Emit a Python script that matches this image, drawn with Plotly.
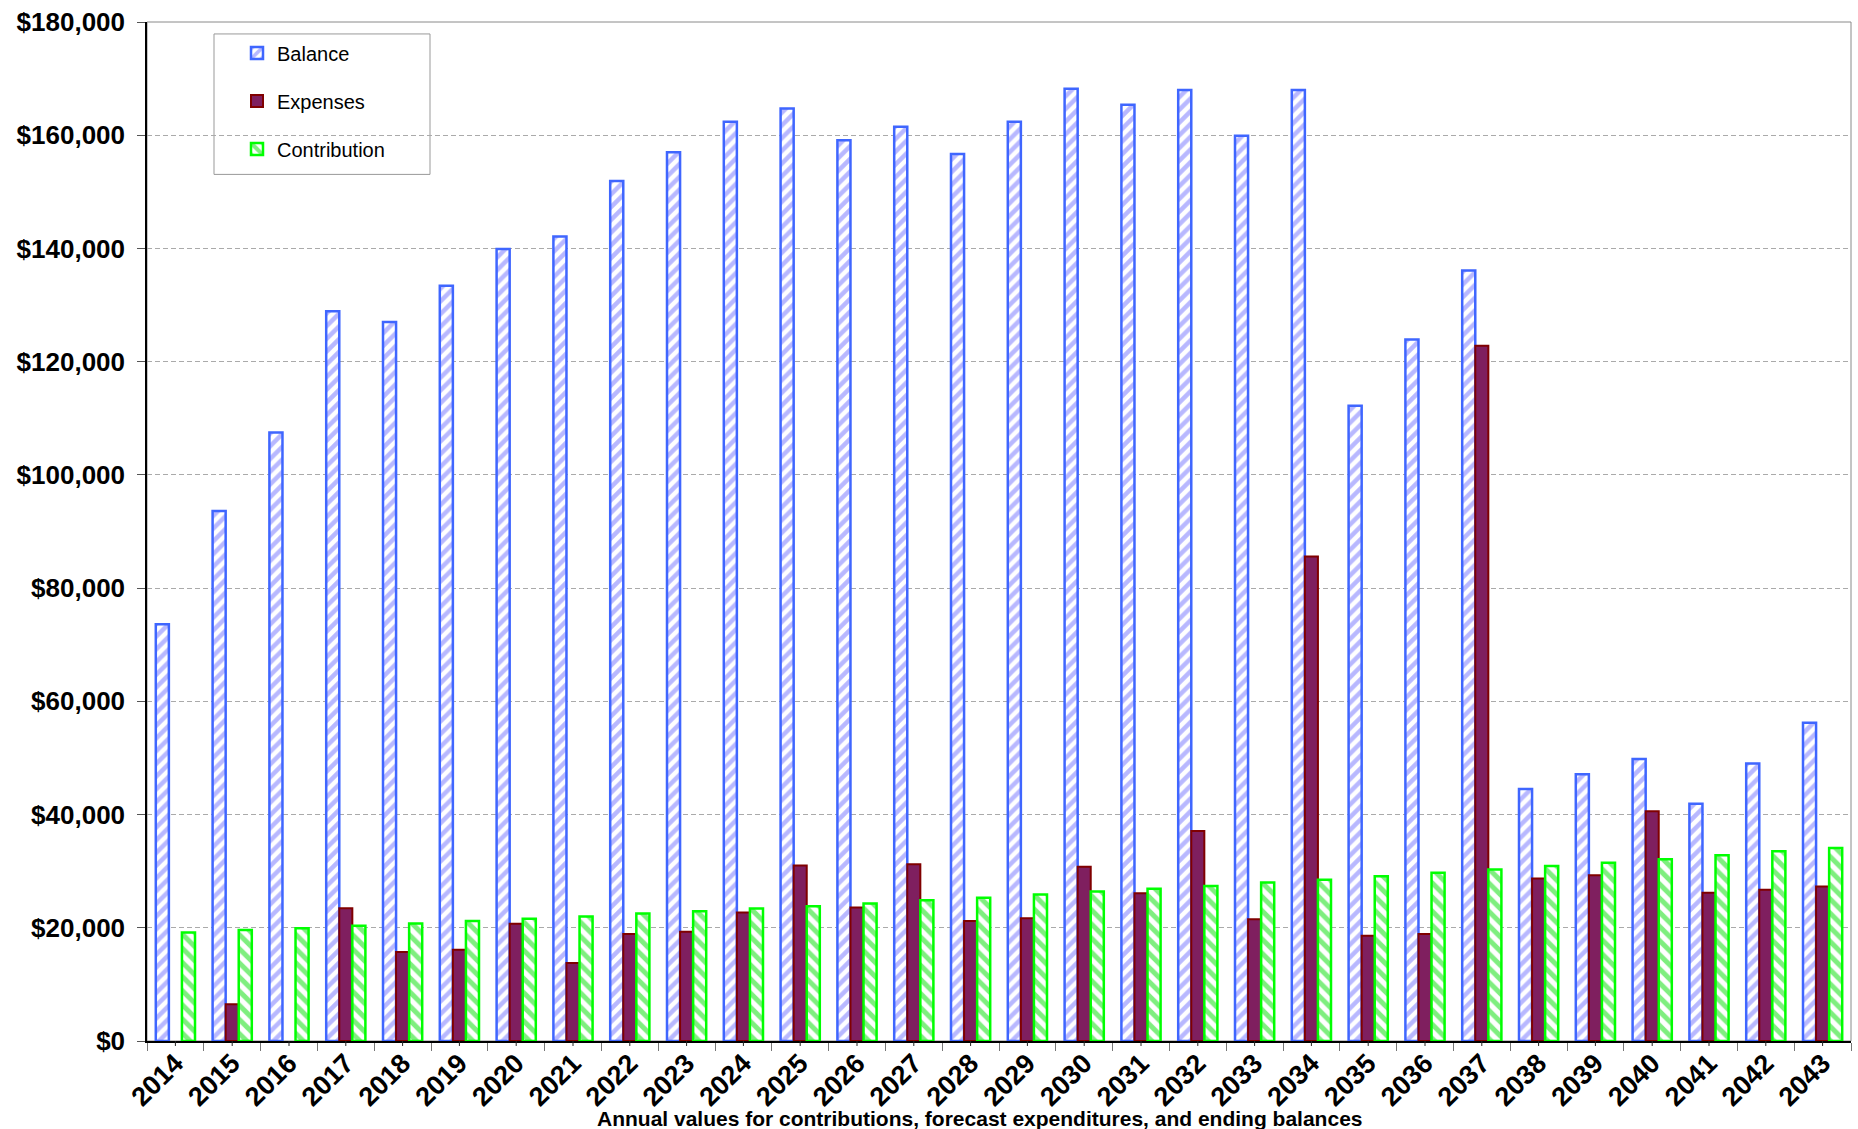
import plotly.graph_objects as go

years = ["2014", "2015", "2016", "2017", "2018", "2019", "2020", "2021", "2022", "2023",
         "2024", "2025", "2026", "2027", "2028", "2029", "2030", "2031", "2032", "2033",
         "2034", "2035", "2036", "2037", "2038", "2039", "2040", "2041", "2042", "2043"]

balance = [73600, 93600, 107500, 128900, 127000, 133400, 139900, 142100, 151900, 157000,
           162400, 164700, 159100, 161500, 156700, 162400, 168200, 165400, 168000, 159900,
           168000, 112200, 123900, 136100, 44500, 47100, 49800, 41900, 49000, 56200]

# no expense bar is drawn for 2014 and 2016
expenses = [None, 6500, None, 23450, 15700, 16100, 20700, 13800, 18900, 19300,
            22700, 31000, 23600, 31200, 21200, 21700, 30800, 26100, 37100, 21500,
            85600, 18600, 18900, 122800, 28700, 29300, 40600, 26200, 26700, 27300]

contribution = [19170, 19600, 19900, 20350, 20750, 21200, 21600, 22000, 22500, 22900,
                23400, 23800, 24300, 24850, 25300, 25900, 26400, 26900, 27400, 28000,
                28500, 29100, 29700, 30300, 30900, 31500, 32100, 32800, 33500, 34100]

x_title = "Annual values for contributions, forecast expenditures, and ending balances"

FONT = "Liberation Sans, Arial, sans-serif"
PW, PH = 1704, 1023  # plot area size in px

fig = go.Figure()
fig.add_bar(
    name="Balance", x=years, y=balance, legendgroup="g1",
    marker=dict(color="white",
                line=dict(color="#3F66FF", width=2.5),
                pattern=dict(shape="/", fgcolor="#7272FF", bgcolor="white",
                             size=9, solidity=0.5)),
)
fig.add_bar(
    name="Expenses", x=years, y=expenses, legendgroup="g2",
    marker=dict(color="#7F1F5F", line=dict(color="#800000", width=2)),
)
fig.add_bar(
    name="Contribution", x=years, y=contribution, legendgroup="g3",
    marker=dict(color="white",
                line=dict(color="#00FF00", width=2.5),
                pattern=dict(shape="\\", fgcolor="#00DD00", bgcolor="white",
                             size=10, solidity=0.5)),
)

shapes = [
    # plot-area frame (gray top / right edges)
    dict(type="rect", xref="paper", yref="paper", x0=0, x1=1, y0=0, y1=1,
         line=dict(color="#8a8a8a", width=1), layer="below"),
    # legend box
    dict(type="rect", xref="paper", yref="paper",
         x0=(214 - 147) / PW, x1=(430 - 147) / PW,
         y0=(1041 - 171) / PH, y1=(1041 - 30) / PH,
         line=dict(color="#999999", width=1), fillcolor="white", layer="between"),
]
# short tick marks at the category centres (ticks proper sit on the boundaries)
for i in range(len(years)):
    shapes.append(dict(type="line", xref="x", yref="paper", x0=i, x1=i,
                       y0=0, y1=-5 / PH, line=dict(color="#222", width=1)))

fig.update_layout(
    width=1858, height=1129,
    margin=dict(l=147, r=7, t=18, b=88),
    paper_bgcolor="white", plot_bgcolor="white",
    barmode="group", bargap=0.31, bargroupgap=0,
    font=dict(family=FONT, color="black"),
    showlegend=True,
    legend=dict(x=(214 - 147) / PW, y=(1041 - 29.5) / PH, xanchor="left", yanchor="top",
                bgcolor="rgba(0,0,0,0)", borderwidth=0,
                font=dict(family=FONT, size=20, color="black"),
                tracegroupgap=19, indentation=23, traceorder="grouped"),
    shapes=shapes,
    annotations=[dict(text=x_title, xref="paper", yref="paper",
                      x=(980 - 147) / PW, y=-(1119 - 1041) / PH,
                      xanchor="center", yanchor="middle", showarrow=False,
                      font=dict(family=FONT, size=21, color="black", weight="bold"))],
)
fig.update_yaxes(
    range=[0, 180000], dtick=20000, tickprefix="$", tickformat=",",
    showgrid=True, gridcolor="#aaaaaa", gridwidth=1, griddash="5px,3px",
    zeroline=False, showline=True, linecolor="black", linewidth=1.5,
    ticks="outside", ticklen=8, tickcolor="#555", ticklabelstandoff=7,
    tickfont=dict(family=FONT, size=26, color="black", weight="bold"),
)
fig.update_xaxes(
    type="category", range=[-0.5, len(years) - 0.5], tickangle=-45,
    showgrid=False, zeroline=False,
    showline=True, linecolor="black", linewidth=1.5,
    ticks="outside", ticklen=8, tickcolor="#777", tickson="boundaries",
    ticklabelstandoff=-6,
    tickfont=dict(family=FONT, size=27, color="black", weight="bold"),
)

fig.write_html("out.html")
